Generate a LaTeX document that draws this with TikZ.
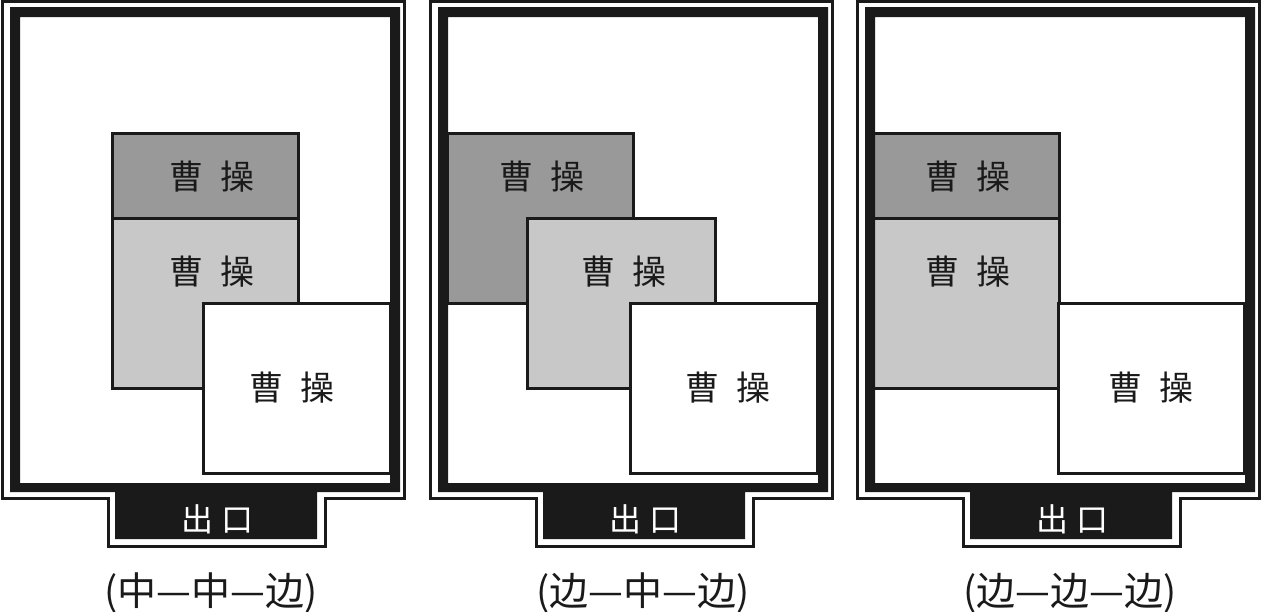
\documentclass[tikz,border=0pt]{standalone}
\usepackage{fontspec}
\newfontfamily\cjk{Noto Sans CJK SC}
\definecolor{ink}{HTML}{1A1A1A}
\definecolor{darkfill}{HTML}{999999}
\definecolor{lightfill}{HTML}{C8C8C8}
\tikzset{
  blk/.style={draw=ink, line width=3pt},
  darkblk/.style={blk, fill=darkfill},
  lightblk/.style={blk, fill=lightfill},
  whiteblk/.style={blk, fill=white},
  lbl/.style={font=\cjk\fontsize{34}{34}\selectfont, inner sep=0pt, text=ink},
  exitlbl/.style={font=\cjk\fontsize{32}{32}\selectfont, inner sep=0pt, text=white},
  caplbl/.style={font=\cjk\fontsize{39}{39}\selectfont, inner sep=0pt, text=ink},
}
\newcommand\myframe{%
  \fill[ink, even odd rule] (10,7) -- (400,7) -- (400,492) -- (317,492) -- (317,539)
     -- (115,539) -- (115,492) -- (10,492) -- cycle (20,17) rectangle (390,483);
  \draw[ink, line width=3pt] (2,1.5) -- (404.5,1.5) -- (404.5,498.5) -- (325.5,498.5)
     -- (325.5,546) -- (108.5,546) -- (108.5,498.5) -- (2,498.5) -- cycle;
}
\begin{document}
\begin{tikzpicture}[x=1pt,y=-1pt]
\useasboundingbox (0,0) rectangle (1261,611);
% ---------- panel 1 ----------
\begin{scope}
  \draw[darkblk] (112,133) rectangle (298,303);
  \draw[lightblk] (112,218) rectangle (298,388);
  \draw[whiteblk] (203,303) rectangle (390,473);
  \myframe
  \node[lbl] (a1) at (212,177) {曹\hspace{18pt}操};
  \node[lbl] (a2) at (212,272) {曹\hspace{18pt}操};
  \node[lbl] (a3) at (292,388) {曹\hspace{18pt}操};
  \node[exitlbl] (ae) at (217,519) {出\hspace{8pt}口};
  \node[caplbl] (ac) at (211,593) {(中—中—边)};
\end{scope}
% ---------- panel 2 ----------
\begin{scope}[xshift=428pt]
  \draw[darkblk] (19,133) rectangle (205,303);
  \draw[lightblk] (99,218) rectangle (287,388);
  \draw[whiteblk] (202,303) rectangle (389,473);
  \myframe
  \node[lbl] (b1) at (114,177) {曹\hspace{18pt}操};
  \node[lbl] (b2) at (196,272) {曹\hspace{18pt}操};
  \node[lbl] (b3) at (300,388) {曹\hspace{18pt}操};
  \node[exitlbl] (be) at (217,519) {出\hspace{8pt}口};
  \node[caplbl] (bc) at (215,593) {(边—中—边)};
\end{scope}
% ---------- panel 3 ----------
\begin{scope}[xshift=855pt]
  \draw[darkblk] (18,133) rectangle (204,303);
  \draw[lightblk] (18,218) rectangle (204,388);
  \draw[whiteblk] (203,303) rectangle (389,473);
  \myframe
  \node[lbl] (c1) at (113,177) {曹\hspace{18pt}操};
  \node[lbl] (c2) at (113,272) {曹\hspace{18pt}操};
  \node[lbl] (c3) at (296,388) {曹\hspace{18pt}操};
  \node[exitlbl] (ce) at (217,519) {出\hspace{8pt}口};
  \node[caplbl] (cc) at (215,593) {(边—边—边)};
\end{scope}
\end{tikzpicture}
\end{document}
